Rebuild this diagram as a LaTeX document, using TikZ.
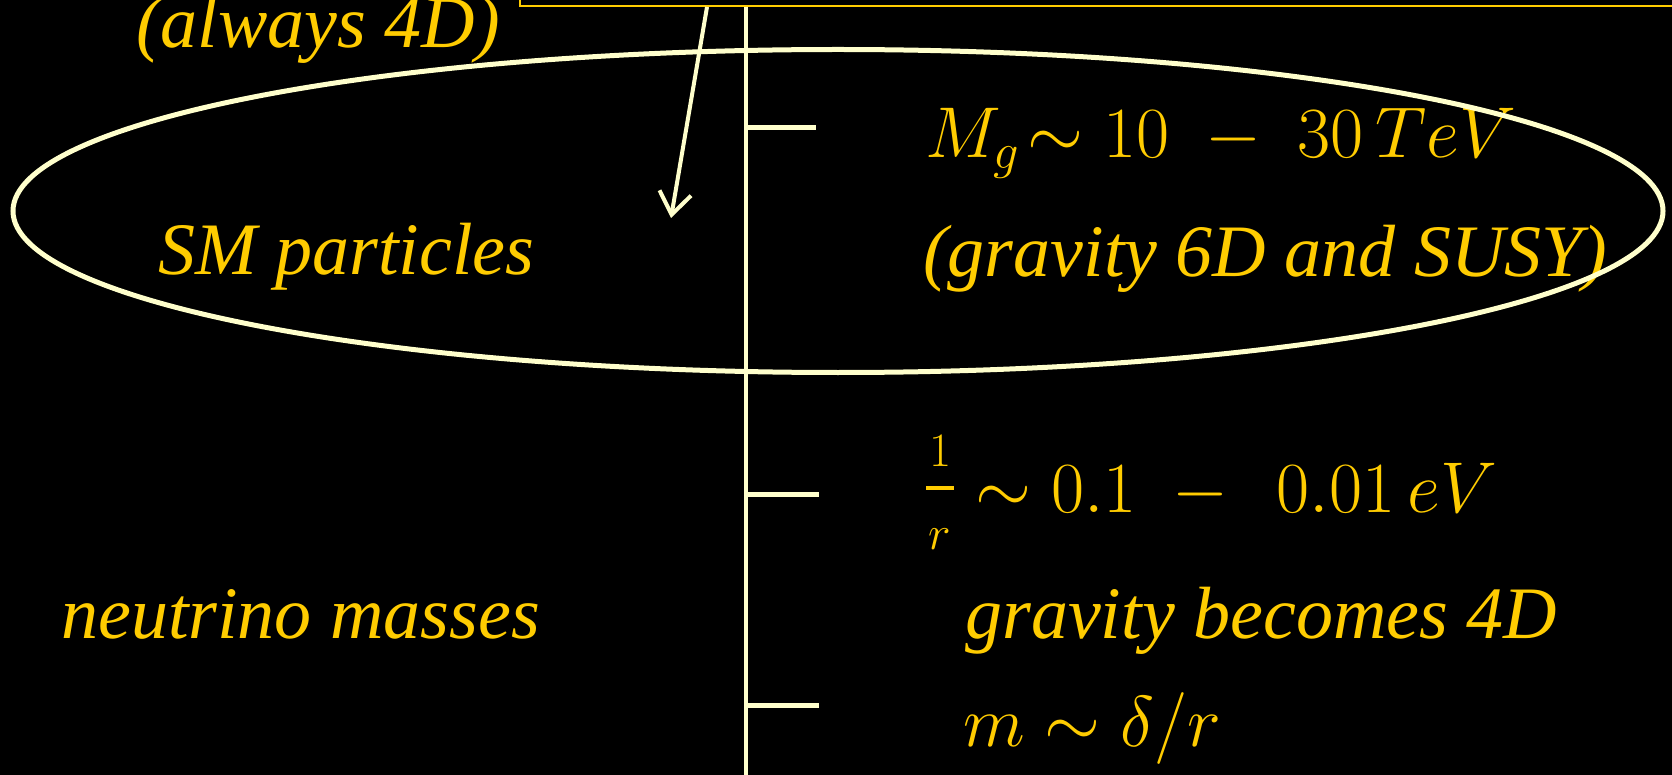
\documentclass[tikz,border=0pt]{standalone}
\usepackage{fix-cm}
\usepackage{amsmath}
\usepackage{fontspec}
\setmainfont{Liberation Serif}
\usepackage{tikz}
\usepackage{xcolor}
\usetikzlibrary{arrows.meta, positioning, calc}
\definecolor{cGold}{RGB}{255,204,0}
\definecolor{cCream}{RGB}{255,255,204}
% hand-set small fraction 1/r
\newcommand{\stackpart}[2]{\rlap{\makebox[30pt][c]{\raisebox{#1}{#2}}}}
\newcommand{\invr}{{\fontsize{48}{50}\selectfont\stackpart{46pt}{$1$}\stackpart{0pt}{\rule[22pt]{28pt}{4pt}}\makebox[30pt][c]{\raisebox{-37pt}{$r$}}}}
\tikzset{
	lbl/.style     ={text=cGold, font=\fontsize{74}{80}\selectfont\itshape, anchor=base west, inner sep=0pt},
	mlbl/.style    ={text=cGold, font=\fontsize{72}{78}\selectfont, anchor=base west, inner sep=0pt},
	axisline/.style={draw=cCream, line width=4pt},
	tickline/.style={draw=cCream, line width=5pt},
	ringline/.style={draw=cCream, line width=5pt},
	downarrow/.style={draw=cCream, line width=4pt, -{Straight Barb[length=22pt, width=32pt, line width=4pt]}},
}

\begin{document}
\begin{tikzpicture}[x=1pt, y=-1pt]
	\fill[black] (0,0) rectangle (1672,775);
	\useasboundingbox (0,0) rectangle (1672,775);
	\clip (0,0) rectangle (1672,775);
	% cut-off box at the top
	\node[draw=cGold, fill=black, line width=2pt, minimum width=1300pt, minimum height=80pt, anchor=south west, inner sep=0pt] (topbox) at (519,7) {};
	\node[lbl, anchor=base] (always) at (318,48) {(always 4D)};
	\node[lbl] (sm) at (158,275) {SM particles};
	\node[lbl] (nu) at (61,638) {neutrino masses};
	\node[lbl] (grav6) at (923,277) {(gravity 6D and SUSY)};
	\node[lbl] (grav4) at (965,638) {gravity becomes 4D};
	\node[mlbl] (mg) at (925,158) {$M_g\!\sim 10\;-\;30\,TeV$};
	\node[mlbl] (inv) at (925,512) {\invr$\;\sim 0.1\;-\;\,0.01\,eV$};
	\node[mlbl] (mass) at (963,746) {$m\sim\delta/r$};
	% scale axis with ticks
	\coordinate (axtop) at (746,7);
	\coordinate (axbot) at (746,780);
	\coordinate (tkA) at (744,128); \coordinate (tkAe) at (816,128);
	\coordinate (tkB) at (744,494); \coordinate (tkBe) at (819,494);
	\coordinate (tkC) at (744,705); \coordinate (tkCe) at (819,705);
	\draw[axisline] (axtop) -- (axbot);
	\draw[tickline] (tkA) -- (tkAe); \draw[tickline] (tkB) -- (tkBe); \draw[tickline] (tkC) -- (tkCe);
	\coordinate (arrtop) at (707,7);
	\coordinate (arrtip) at (671,218);
	\draw[downarrow] (arrtop) -- (arrtip);
	\draw[ringline] (838,211) ellipse [x radius=825, y radius=161.5];
\end{tikzpicture}
\end{document}
